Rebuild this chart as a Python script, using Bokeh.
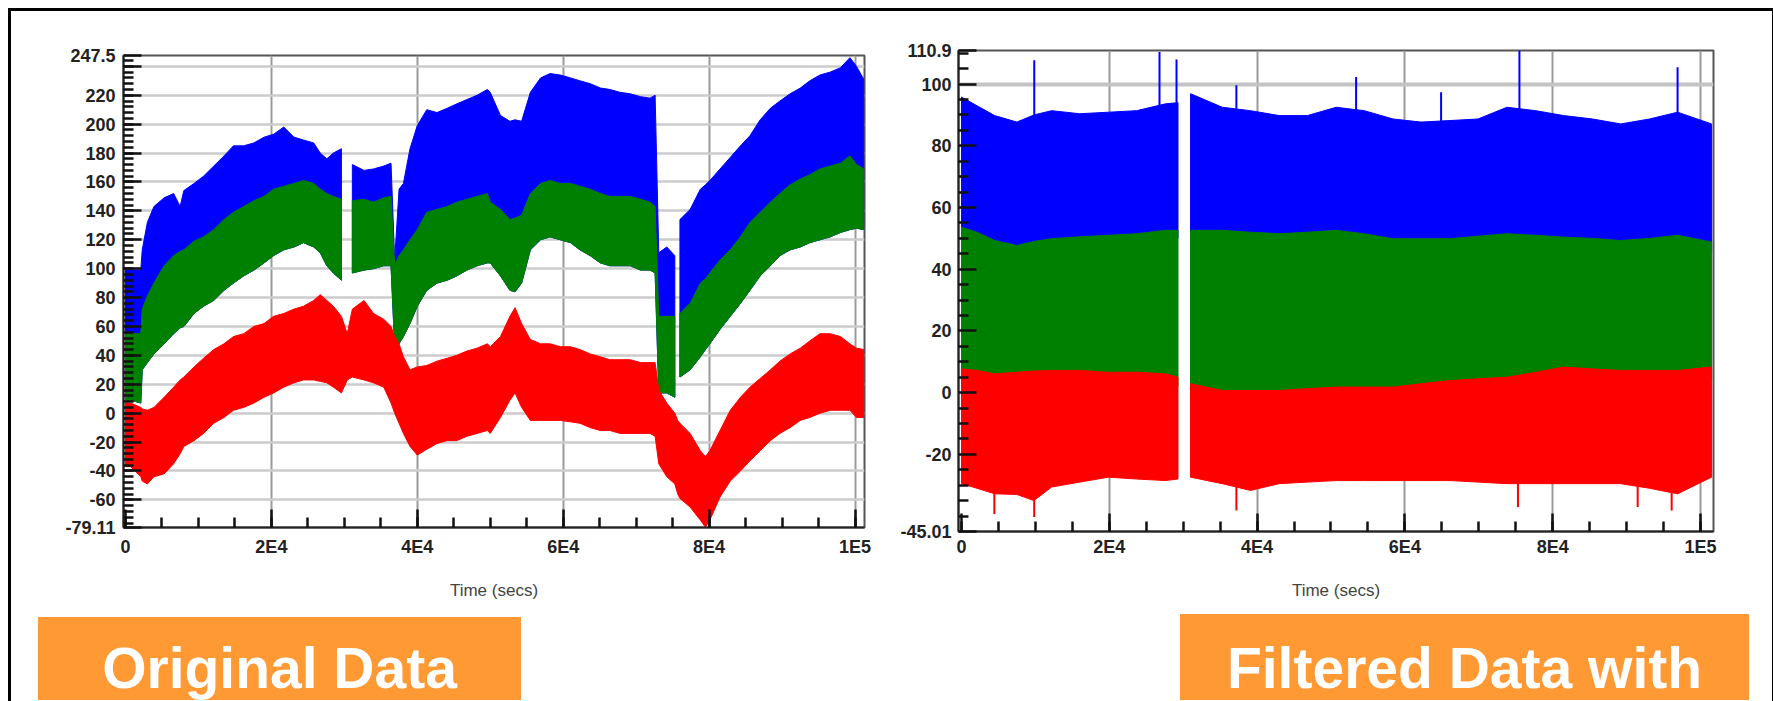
from bokeh.plotting import figure
from bokeh.models import Range1d, FixedTicker, Div
from bokeh.layouts import row, column
from bokeh.embed import file_html
from bokeh.resources import INLINE

# ---------------- Left panel: original data (band envelopes) ----------------
orig_time = [0, 700, 2100, 2300, 3000, 3900, 5300, 6600, 7500, 8000, 9400, 10700, 12100, 13500,
             14800, 16200, 17600, 19000, 20300, 21700, 23100, 24400, 25800, 26700, 27600, 28500,
             29600, 30400, 31100, 32700, 34000, 35400, 36400, 36900, 37500, 38100, 39000, 40000,
             41300, 42700, 44100, 45400, 46800, 48200, 49600, 50000, 51400, 52700, 53400, 54300,
             55500, 56900, 58200, 59600, 61000, 62300, 63700, 65100, 66400, 67800, 69200, 70600,
             71900, 72600, 73100, 74200, 75300, 75700, 76000, 77400, 78800, 79500, 80100, 81500,
             82900, 84300, 85600, 87000, 88400, 89700, 91100, 92500, 93800, 95200, 96600, 98000,
             99300, 100200, 101200]
orig_blue_hi = [99, 99, 99, 113, 132, 143, 149, 152, 143, 154, 159, 164, 171, 178,
                185, 185, 187, 191, 193, 198, 191, 189, 187, 180, 176, 180,
                183, None, 172, 168, 169, 171, 173, 106, 155, 159, 183, 199,
                210, 208, 211, 214, 217, 220, 224, 222, 206, 202, 203, 202,
                222, 232, 235, 234, 232, 230, 228, 225, 224, 222, 221, 219,
                218, 220, 111, 115, 109, None, 134, 141, 155, 158, 161, 169,
                177, 185, 192, 203, 211, 216, 221, 225, 230, 234, 236, 239,
                246, 240, 231]
orig_green_hi = [55, 55, 55, 72, 81, 90, 102, 109, 112, 113, 119, 122, 127, 134,
                 139, 143, 147, 150, 155, 157, 159, 161, 159, 155, 152, 150,
                 148, None, 147, 148, 146, 149, 150, 102, 109, 113, 120, 127,
                 139, 141, 143, 146, 148, 150, 152, 146, 141, 134, 135, 137,
                 152, 159, 161, 159, 159, 157, 155, 152, 150, 150, 150, 148,
                 146, 143, 67, 67, 67, None, 69, 76, 90, 93, 97, 106,
                 113, 122, 132, 139, 146, 152, 158, 162, 165, 169, 171, 173,
                 178, 172, 169]
orig_green_lo = [9, 9, 7, 30, 35, 41, 48, 55, 59, 60, 69, 74, 78, 85,
                 90, 95, 99, 104, 109, 113, 115, 118, 115, 111, 102, 97,
                 92, None, 97, 99, 100, 102, 102, 46, 48, 53, 62, 74,
                 85, 90, 92, 95, 99, 102, 104, 104, 95, 85, 84, 90,
                 113, 120, 122, 120, 118, 113, 109, 104, 102, 102, 102, 99,
                 99, 97, 14, 14, 11, None, 25, 30, 39, 44, 48, 58,
                 67, 76, 85, 95, 102, 109, 113, 115, 118, 120, 122, 125,
                 127, 128, 127]
orig_red_hi = [7, 7, 4, 3, 2, 4, 11, 18, 23, 25, 32, 38, 44, 48,
               53, 55, 60, 62, 67, 69, 72, 74, 78, 82, 78, 74,
               67, 55, 72, 78, 69, 65, 60, 53, 48, 39, 30, 32,
               33, 36, 38, 40, 43, 45, 48, 46, 53, 67, 73, 62,
               51, 48, 48, 46, 46, 44, 41, 39, 37, 37, 37, 35,
               35, 35, 16, 7, 0, -5, -7, -14, -26, -30, -26, -12,
               2, 11, 18, 24, 30, 36, 41, 45, 50, 55, 55, 53,
               48, 45, 44]
orig_red_lo = [-37, -37, -44, -47, -49, -44, -42, -35, -28, -23, -19, -14, -7, -3,
               2, 4, 7, 11, 14, 18, 21, 23, 23, 22, 21, 18,
               14, 23, 25, 23, 21, 18, 7, 0, -7, -14, -23, -29,
               -25, -21, -19, -19, -16, -14, -12, -14, -3, 9, 14, 4,
               -5, -5, -5, -5, -6, -7, -10, -12, -12, -14, -14, -14,
               -14, -16, -35, -44, -49, -56, -59, -65, -74, -79, -74, -58,
               -47, -40, -33, -26, -19, -14, -10, -5, -3, 0, 2, 2,
               2, -3, -3]

orig_y_ticks = [-79.11, -60, -40, -20, 0, 20, 40, 60, 80, 100, 120, 140, 160, 180, 200, 220, 240, 247.5]
orig_y_labels = ["-79.11", "-60", "-40", "-20", "0", "20", "40", "60", "80", "100", "120", "140",
                 "160", "180", "200", "220", "", "247.5"]
orig_y_grid = [-60, -40, -20, 0, 20, 40, 60, 80, 100, 120, 140, 160, 180, 200, 220, 240]
orig_y_minor = list(range(-76, 248, 4))

# ---------------- Right panel: filtered data ----------------
filt_time = [0, 2100, 4500, 7500, 9800, 12200, 16000, 19900, 23700, 27600, 29300, 29900, 31000,
             35300, 39100, 43000, 46800, 50700, 54500, 58400, 62200, 66100, 69900, 73800, 77700,
             81500, 85400, 89200, 93100, 96900, 101500]
filt_blue_hi = [95.8, 93, 89.8, 87.7, 90, 91.4, 90.4, 90.9, 91.4, 93.6, 94, None, 96.9,
                92.5, 91.4, 89.8, 89.8, 92.5, 91.4, 88.7, 87.7, 88.2, 88.7, 92.5, 91.4,
                89.8, 88.7, 87.1, 88.7, 90.9, 87.1]
filt_blue_lo = [50, 49, 46, 45, 46, 47, 47, 48, 49, 50, 50, None, 50,
                49, 49, 48, 48, 49, 48, 46, 46, 46, 47, 48, 48,
                47, 47, 46, 47, 48, 46]
filt_green_hi = [53.6, 52, 49.3, 47.7, 49, 49.9, 50.5, 51.0, 51.5, 52.6, 52.6, None, 52.6,
                 52.6, 52, 51.5, 52, 52.6, 51.5, 49.9, 49.9, 49.9, 50.7, 51.5, 51,
                 50.4, 50, 49.3, 50, 51.0, 48.8]
filt_green_lo = [4, 4, 4, 3, 3, 3, 4, 4, 3, 3, 2, None, -1,
                 -3, -3, -3, -2, -2, -2, -2, 0, 1, 2, 2, 3,
                 4, 4, 4, 4, 4, 4]
filt_red_hi = [7.7, 7.2, 6.1, 6.6, 7, 7.2, 7.2, 6.6, 6.6, 6.1, 5, None, 2.9,
               0.7, 0.7, 0.7, 1.3, 1.8, 1.8, 1.8, 2.9, 3.9, 4.5, 5.0, 6.6,
               8.3, 7.7, 7.2, 7.2, 7.2, 8.3]
filt_red_lo = [-29.5, -31, -32.8, -33, -35, -30.6, -29, -27.4, -28, -28.5, -28, None, -27.4,
               -29.5, -31.7, -29.5, -29, -28.5, -28.5, -28.5, -28.5, -28.5, -29, -29.5, -29.5,
               -29.5, -29.5, -29.5, -31, -32.8, -27.4]

filt_blue_spike_time = [9850, 26800, 29100, 37200, 53400, 64900, 75500, 96900]
filt_blue_spike_top = [107.7, 110.4, 108, 99.6, 102.3, 97.4, 110.9, 105.5]
filt_blue_spike_base = [89, 92, 93, 92, 91, 88, 91, 90]
filt_red_spike_time = [4450, 9840, 37200, 75300, 91500, 96100]
filt_red_spike_bottom = [-39.3, -40.3, -38.2, -37.1, -37.1, -38.2]
filt_red_spike_base = [-31, -33, -30, -29, -29, -31]

filt_y_ticks = [-45.01, -20, 0, 20, 40, 60, 80, 100, 110.9]
filt_y_labels = ["-45.01", "-20", "0", "20", "40", "60", "80", "100", "110.9"]
filt_y_grid = [100]
filt_y_minor = [-40, -35, -30, -25, -15, -10, -5, 5, 10, 15, 25, 30, 35, 45, 50, 55,
                65, 70, 75, 85, 90, 95, 105, 110]

time_ticks = [0, 20000, 40000, 60000, 80000, 100000]
time_labels = ["0", "2E4", "4E4", "6E4", "8E4", "1E5"]
time_grid = [20000, 40000, 60000, 80000, 100000]
time_minor = list(range(0, 101001, 5000))

caption_left = "Original Data"
caption_right = "Filtered Data with"

BLUE, GREEN, RED = "#0000ff", "#008000", "#ff0000"


def band(xs, hi, lo):
    polys_x, polys_y, seg = [], [], []

    def flush():
        if len(seg) > 1:
            polys_x.append([s[0] for s in seg] + [s[0] for s in reversed(seg)])
            polys_y.append([s[1] for s in seg] + [s[2] for s in reversed(seg)])

    for x, h, l in zip(xs, hi, lo):
        if h is None:
            flush()
            seg = []
        else:
            seg.append((x, h, l))
    flush()
    return polys_x, polys_y


def style(p, y_ticks, y_labels, y_grid, y_minor, xlab_standoff, title_standoff, ylab_standoff):
    p.background_fill_color = "white"
    p.border_fill_color = "white"
    p.outline_line_color = "#555555"
    p.outline_line_width = 2
    p.frame_align = False
    xa, ya = p.xaxis[0], p.yaxis[0]
    xa.ticker = FixedTicker(ticks=time_ticks, minor_ticks=time_minor)
    xa.major_label_overrides = dict(zip(time_ticks, time_labels))
    ya.ticker = FixedTicker(ticks=y_ticks, minor_ticks=y_minor)
    ya.major_label_overrides = dict(zip(y_ticks, y_labels))
    for ax in (xa, ya):
        ax.axis_line_color = "#222222"
        ax.axis_line_width = 2
        ax.major_tick_in = 18
        ax.major_tick_out = 0
        ax.minor_tick_in = 10
        ax.minor_tick_out = 0
        ax.major_tick_line_color = "#111111"
        ax.minor_tick_line_color = "#111111"
        ax.major_tick_line_width = 2.5
        ax.minor_tick_line_width = 2.5
        ax.major_label_text_font = "Liberation Sans"
        ax.major_label_text_font_style = "bold"
        ax.major_label_text_font_size = "18px"
        ax.major_label_text_color = "#222222"
    xa.major_label_standoff = xlab_standoff
    ya.major_label_standoff = ylab_standoff
    xa.axis_label = "Time (secs)"
    xa.axis_label_text_font = "Liberation Sans"
    xa.axis_label_text_font_style = "normal"
    xa.axis_label_text_font_size = "17px"
    xa.axis_label_text_color = "#444444"
    xa.axis_label_standoff = title_standoff
    p.xgrid.ticker = FixedTicker(ticks=time_grid)
    p.ygrid.ticker = FixedTicker(ticks=y_grid)
    p.xgrid.grid_line_color = "#9a9a9a"
    p.xgrid.grid_line_width = 2
    p.ygrid.grid_line_color = "#cccccc"
    p.ygrid.grid_line_width = 2.5


# ---------- left figure ----------
p1 = figure(width=869, height=601, output_backend="svg", toolbar_location=None,
            x_range=Range1d(-270, 101300), y_range=Range1d(-79.11, 247.5),
            min_border_left=112, min_border_right=16, min_border_top=44, min_border_bottom=85)
style(p1, orig_y_ticks, orig_y_labels, orig_y_grid, orig_y_minor, 9, 21, 8)
for hi, lo, c in ((orig_blue_hi, orig_green_lo, BLUE),
                  (orig_green_hi, orig_green_lo, GREEN),
                  (orig_red_hi, orig_red_lo, RED)):
    xs, ys = band(orig_time, hi, lo)
    p1.patches(xs, ys, fill_color=c, line_color=c, line_width=1)

# ---------- right figure ----------
p2 = figure(width=880, height=601, output_backend="svg", toolbar_location=None,
            x_range=Range1d(-400, 101760), y_range=Range1d(-45.01, 110.9),
            min_border_left=78, min_border_right=47, min_border_top=39, min_border_bottom=81)
style(p2, filt_y_ticks, filt_y_labels, filt_y_grid, filt_y_minor, 5, 21, 7)
p2.ygrid.grid_line_width = 4
p2.ygrid.grid_line_color = "#c4c4c4"
for hi, lo, c in ((filt_blue_hi, filt_blue_lo, BLUE),
                  (filt_green_hi, filt_green_lo, GREEN),
                  (filt_red_hi, filt_red_lo, RED)):
    xs, ys = band(filt_time, hi, lo)
    p2.patches(xs, ys, fill_color=c, line_color=c, line_width=1)
p2.segment(x0=filt_blue_spike_time, y0=filt_blue_spike_base, x1=filt_blue_spike_time,
           y1=filt_blue_spike_top, line_color=BLUE, line_width=2)
p2.segment(x0=filt_red_spike_time, y0=filt_red_spike_base, x1=filt_red_spike_time,
           y1=filt_red_spike_bottom, line_color=RED, line_width=2)

# ---------- orange captions ----------
box_style = "position:absolute;background:#FF9933;overflow:hidden;"
span_style = ("position:absolute;left:0;right:0;text-align:center;white-space:nowrap;"
              "font-family:'Liberation Sans';font-weight:bold;font-size:57px;line-height:1;"
              "color:#ffffff;")
html = ('<div style="position:relative;width:1740px;height:80px;">'
        f'<div style="{box_style}left:22px;top:0px;width:483px;height:83px;">'
        f'<span style="{span_style}top:23px;">{caption_left}</span></div>'
        f'<div style="{box_style}left:1164px;top:-3px;width:569px;height:86px;">'
        f'<span style="{span_style}top:26px;">{caption_right}</span></div>'
        '</div>')
captions = Div(text=html, width=1751, height=88)

page = column(row(p1, p2), captions,
              styles={"border-top": "3px solid black", "border-left": "3px solid black",
                      "border-right": "3px solid black",
                      "margin-left": "8px", "margin-top": "8px"})

open("out.html", "w").write(file_html(page, INLINE))
